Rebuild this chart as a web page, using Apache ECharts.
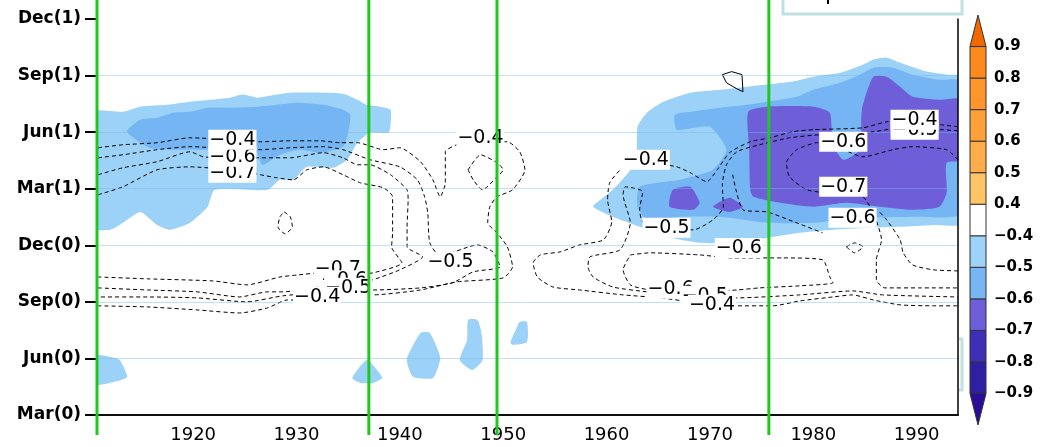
<!DOCTYPE html>
<html>
<head>
<meta charset="utf-8">
<script src="https://cdn.jsdelivr.net/npm/echarts@6/dist/echarts.min.js"></script>
<style>
  html, body { margin: 0; background: #fff; }
  #chart { width: 1057px; height: 447px; }
</style>
</head>
<body>
<div id="chart"></div>
<script>
// axes
const yTickLabels = ['Mar(0)', 'Jun(0)', 'Sep(0)', 'Dec(0)', 'Mar(1)', 'Jun(1)', 'Sep(1)', 'Dec(1)'];
const xTickValues = [1920, 1930, 1940, 1950, 1960, 1970, 1980, 1990];
const greenLineYears = [1910.7, 1937.0, 1949.4, 1975.7];

// colour bar
const cbLabels = ['−0.9', '−0.8', '−0.7', '−0.6', '−0.5', '−0.4', '0.4', '0.5', '0.6', '0.7', '0.8', '0.9'];
const cbColors = ['#2a0c98', '#2f20a3', '#3d2fb8', '#6e5fd9', '#77b6f3', '#9dd3f8', '#ffffff',
  '#ffc465', '#ffad4a', '#ffa13a', '#ff952b', '#fd8a1c', '#f06800'];

// filled areas, [year, month index from Mar(0)]
const fillLeft04 = [[1910.0,16.03],[1913.2,16.08],[1914.9,16.35],[1917.5,16.45],[1919.7,16.61],[1921.6,16.72],[1923.6,16.83],[1924.8,16.99],[1926.2,16.83],[1928.1,16.99],[1929.4,17.09],[1932.6,17.09],[1934.5,17.04],[1935.9,16.72],[1936.8,16.45],[1938.1,16.35],[1939.1,16.19],[1939.1,15.39],[1938.9,14.97],[1937.1,14.97],[1935.9,14.44],[1934.9,13.54],[1933.5,13.11],[1931.0,13.16],[1929.7,12.47],[1928.4,12.47],[1927.2,11.94],[1922.1,11.94],[1921.4,11.04],[1919.7,10.19],[1917.8,9.82],[1916.5,10.08],[1914.9,10.77],[1913.2,10.19],[1912.0,9.82],[1910.0,9.93]];
const fillLeft05 = [[1913.6,15.02],[1914.9,15.66],[1916.5,15.76],[1918.1,16.03],[1919.7,16.08],[1921.4,16.30],[1923.6,16.30],[1926.2,16.35],[1928.1,16.45],[1930.1,16.56],[1932.6,16.45],[1934.5,16.19],[1935.2,15.92],[1935.0,14.97],[1934.5,14.23],[1932.3,13.91],[1930.3,14.07],[1928.4,13.80],[1926.7,13.27],[1926.0,14.07],[1923.6,14.07],[1920.7,14.07],[1917.8,14.07],[1915.8,14.17]];
const fillRight04 = [[1958.7,11.04],[1959.4,11.41],[1960.6,11.94],[1962.3,13.00],[1962.9,14.07],[1963.0,15.29],[1963.9,16.03],[1965.5,16.61],[1968.1,17.09],[1971.0,17.25],[1973.6,17.41],[1975.5,17.52],[1978.0,17.68],[1980.0,17.94],[1982.6,18.15],[1984.8,18.58],[1985.8,18.84],[1987.1,18.95],[1988.4,18.68],[1991.0,18.21],[1992.9,18.05],[1994.5,17.94],[1994.5,10.19],[1991.6,10.08],[1988.4,9.98],[1985.2,9.93],[1981.9,9.82],[1978.7,9.66],[1975.5,9.39],[1972.2,9.13],[1969.0,9.13],[1965.8,9.45],[1963.2,9.98],[1960.6,10.51]];
const fillRight05 = [[1966.6,15.92],[1968.1,16.08],[1971.0,16.30],[1973.6,16.45],[1975.5,16.61],[1978.4,16.88],[1980.0,17.25],[1982.6,17.62],[1984.5,18.05],[1985.8,18.42],[1987.7,18.42],[1989.6,18.05],[1992.2,17.78],[1994.5,17.68],[1994.5,10.72],[1989.6,10.51],[1984.5,10.46],[1980.0,10.19],[1975.5,10.19],[1971.0,10.51],[1967.1,10.51],[1963.9,10.35],[1963.0,11.04],[1963.2,12.10],[1967.1,12.47],[1970.3,13.00],[1971.6,14.07],[1970.0,15.29],[1966.8,15.13]];
const fillRight06 = [[1973.7,16.08],[1975.5,16.35],[1980.0,16.35],[1981.6,16.03],[1981.9,14.33],[1982.9,13.54],[1984.5,14.07],[1984.7,16.19],[1985.8,17.94],[1987.1,17.94],[1988.4,17.41],[1989.6,16.88],[1992.2,16.72],[1994.5,16.72],[1994.5,13.54],[1992.9,13.38],[1992.9,11.78],[1992.2,11.04],[1989.6,10.88],[1986.4,11.04],[1983.2,11.25],[1980.0,11.04],[1976.8,11.25],[1974.2,11.57],[1973.9,11.94],[1973.8,14.07]];
const fillSpot06a = [[1966.1,11.04],[1966.4,11.94],[1968.1,12.10],[1969.0,11.25],[1968.4,10.88]];
const fillSpot06b = [[1970.3,11.04],[1971.9,11.52],[1973.2,11.04],[1971.9,10.77]];
const fillSpotA = [[1910.0,3.18],[1912.0,3.08],[1912.9,2.92],[1913.6,2.02],[1912.3,1.75],[1910.0,1.59]];
const fillSpotB = [[1935.4,1.96],[1936.8,2.92],[1937.8,2.39],[1938.3,1.96],[1937.4,1.70],[1936.2,1.70]];
const fillSpotC = [[1940.7,3.03],[1942.0,4.35],[1942.9,4.35],[1943.9,3.03],[1943.2,1.96],[1941.3,2.02],[1940.8,2.55]];
const fillSpotD = [[1945.8,2.92],[1946.5,3.98],[1946.6,5.04],[1947.5,5.04],[1947.9,4.35],[1948.0,2.92],[1947.0,2.39]];
const fillSpotE = [[1950.7,3.87],[1951.3,4.62],[1951.6,4.94],[1952.3,4.94],[1952.3,3.87],[1950.9,3.72]];

const levelColors = { l04: '#9cd2f8', l05: '#76b5f3', l06: '#6e5fd9' };
const fillShapes = [
  { color: levelColors.l04, pts: fillLeft04 },
  { color: levelColors.l04, pts: fillRight04 },
  { color: levelColors.l04, pts: fillSpotA },
  { color: levelColors.l04, pts: fillSpotB },
  { color: levelColors.l04, pts: fillSpotC },
  { color: levelColors.l04, pts: fillSpotD },
  { color: levelColors.l04, pts: fillSpotE },
  { color: levelColors.l05, pts: fillLeft05 },
  { color: levelColors.l05, pts: fillRight05 },
  { color: levelColors.l06, pts: fillRight06 },
  { color: levelColors.l06, pts: fillSpot06a },
  { color: levelColors.l06, pts: fillSpot06b },
];

// dashed contour lines
const lineLeft04 = [[1910.8,14.17],[1913.2,14.33],[1916.5,14.44],[1919.7,14.70],[1923.6,14.60],[1926.5,14.49],[1929.4,14.54],[1932.3,14.54],[1934.2,14.44],[1935.9,14.44],[1938.4,14.07],[1940.0,14.17],[1942.0,13.43],[1943.2,12.47],[1943.9,11.57],[1944.4,12.31],[1944.4,13.96],[1945.5,14.33],[1946.8,14.49],[1950.4,14.49],[1951.6,13.96],[1952.1,13.00],[1950.9,11.94],[1949.4,11.57],[1948.7,11.04],[1948.5,10.19],[1949.4,9.66],[1950.4,8.92],[1950.9,7.86],[1950.0,7.27],[1945.5,7.06],[1942.0,6.63],[1937.4,6.37],[1934.5,6.37],[1931.3,6.10],[1929.1,6.10],[1927.2,5.68],[1924.5,5.41],[1920.4,5.57],[1915.6,5.73],[1910.8,5.79]];
const lineLeft05 = [[1910.8,13.64],[1913.2,13.80],[1916.5,14.07],[1919.7,14.23],[1923.6,14.12],[1926.5,14.07],[1929.4,14.17],[1932.6,14.23],[1934.5,14.07],[1937.1,13.54],[1940.0,13.16],[1941.7,12.47],[1942.4,11.57],[1942.7,10.72],[1942.9,9.13],[1943.9,8.44],[1947.5,9.02],[1949.0,8.65],[1949.7,7.86],[1947.1,7.59],[1945.1,7.01],[1942.0,6.74],[1937.4,6.63],[1935.5,6.63],[1928.7,6.32],[1925.2,6.00],[1920.4,6.21],[1915.6,6.26],[1910.8,6.26]];
const lineLeft06 = [[1910.8,12.74],[1913.2,13.11],[1916.5,13.43],[1919.7,13.96],[1921.0,13.69],[1923.6,13.64],[1926.5,13.64],[1929.4,13.64],[1932.6,13.91],[1934.5,13.64],[1935.9,13.27],[1937.1,13.27],[1939.1,12.74],[1940.7,11.94],[1940.8,11.41],[1940.7,9.98],[1940.7,8.92],[1942.2,8.39],[1940.0,7.70],[1937.4,7.17],[1935.5,6.90],[1932.3,6.79],[1928.7,6.53],[1927.2,6.53],[1924.5,6.26],[1920.4,6.53],[1915.6,6.63],[1910.8,6.74]];
const lineLeft07 = [[1910.8,11.68],[1913.2,12.10],[1916.5,13.00],[1919.7,13.16],[1923.6,13.00],[1926.5,12.74],[1928.1,12.58],[1929.7,12.47],[1931.0,13.00],[1932.6,13.16],[1934.5,12.74],[1936.2,12.31],[1938.4,12.05],[1939.3,11.57],[1939.3,9.66],[1939.2,8.92],[1940.2,8.07],[1937.4,7.54],[1935.2,7.43],[1933.2,7.59],[1930.2,7.43],[1928.4,7.32],[1925.2,6.90],[1921.9,7.11],[1915.6,7.22],[1910.8,7.32]];
const loop1948 = [[1946.6,13.00],[1947.8,13.80],[1949.4,13.38],[1950.0,13.00],[1949.4,12.63],[1948.0,11.94],[1947.1,12.47],[1946.6,13.00]];
const loop1929 = [[1928.8,10.77],[1929.4,10.51],[1929.6,9.98],[1928.9,9.61],[1928.2,9.98],[1928.4,10.51],[1928.8,10.77]];
const lineRight04 = [[1994.0,15.29],[1992.4,15.39],[1989.8,15.66],[1987.1,15.55],[1984.8,15.23],[1980.0,15.13],[1978.0,15.02],[1975.8,14.70],[1973.9,14.49],[1971.9,13.91],[1970.7,13.00],[1969.7,12.37],[1968.1,12.85],[1966.8,13.16],[1964.2,13.38],[1961.6,13.11],[1960.3,12.31],[1960.1,11.41],[1960.5,10.24],[1959.7,9.29],[1957.4,9.02],[1955.5,8.65],[1953.6,8.49],[1952.9,8.07],[1953.3,7.32],[1954.8,6.79],[1957.4,6.63],[1961.6,6.37],[1965.2,6.21],[1969.0,5.94],[1972.6,5.79],[1976.1,5.79],[1978.7,6.05],[1981.9,6.26],[1983.8,6.37],[1985.8,6.10],[1988.4,5.84],[1991.6,5.79],[1994.0,5.79]];
const lineRight05 = [[1994.0,15.07],[1992.5,15.13],[1988.4,15.23],[1985.8,15.02],[1980.6,14.86],[1977.7,14.70],[1974.8,14.33],[1972.6,13.96],[1971.6,13.27],[1971.2,12.21],[1971.3,11.04],[1970.3,10.35],[1968.4,9.82],[1965.9,9.93],[1963.5,10.24],[1963.2,10.88],[1963.5,11.84],[1961.8,12.10],[1961.6,11.68],[1962.3,10.19],[1961.3,8.76],[1958.4,8.39],[1958.2,7.86],[1958.7,7.32],[1960.6,6.79],[1963.9,6.53],[1968.1,6.26],[1972.6,6.21],[1978.7,6.37],[1983.8,6.58],[1986.7,6.37],[1994.0,6.26]];
const lineRight06 = [[1994.0,13.54],[1992.9,14.07],[1989.6,14.23],[1987.7,14.07],[1984.8,13.69],[1982.9,14.07],[1980.4,14.44],[1978.4,14.07],[1977.4,13.38],[1977.7,12.63],[1979.4,11.94],[1982.9,11.68],[1984.8,11.57],[1985.8,10.72],[1986.6,9.29],[1986.1,8.23],[1986.1,7.17],[1986.9,6.74],[1990.3,6.74],[1994.0,6.74]];
const lineRight06b = [[1994.0,7.64],[1991.6,7.70],[1989.6,7.96],[1988.7,8.60],[1988.4,9.29],[1987.1,10.35],[1986.4,10.77]];
const lineRight07 = [[1972.2,12.74],[1973.2,10.88],[1975.5,10.77],[1978.4,10.19],[1980.9,9.66]];
const loopRight06 = [[1962.3,8.49],[1964.2,8.60],[1969.0,8.49],[1972.2,8.33],[1977.1,8.33],[1980.9,8.23],[1981.6,7.32],[1981.9,7.01],[1978.7,6.85],[1974.8,6.74],[1972.6,6.63],[1969.0,6.53],[1967.1,6.53],[1964.2,6.63],[1962.3,6.90],[1961.6,7.70],[1962.3,8.49]];
const loop1984 = [[1983.2,8.92],[1984.0,9.13],[1984.8,8.92],[1984.0,8.60],[1983.2,8.92]];
const dashedLines = [lineLeft04, lineLeft05, lineLeft06, lineLeft07, loop1948, loop1929,
  lineRight04, lineRight05, lineRight06, lineRight06b, lineRight07, loopRight06, loop1984];
// solid positive contour
const solidLoop = [[1971.2,18.05],[1972.1,18.21],[1973.1,18.05],[1973.2,17.14],[1972.6,17.30],[1971.6,17.62],[1971.2,18.05]];

// contour labels [year, month index, text]
const contourLabels = [
  [1923.8, 12.85, '−0.7'], [1923.8, 13.69, '−0.6'], [1923.8, 14.60, '−0.4'],
  [1947.8, 14.70, '−0.4'], [1944.9, 8.12, '−0.5'],
  [1934.0, 7.75, '−0.7'], [1934.6, 7.15, '−0.6'], [1935.0, 6.75, '−0.5'], [1932.0, 6.26, '−0.4'],
  [1963.8, 13.54, '−0.4'], [1965.8, 9.93, '−0.5'], [1982.9, 14.49, '−0.6'],
  [1989.8, 15.13, '−0.5'], [1989.8, 15.66, '−0.4'],
  [1982.9, 12.10, '−0.7'], [1983.8, 10.46, '−0.6'], [1972.8, 8.86, '−0.6'],
  [1966.2, 6.69, '−0.6'], [1969.5, 6.32, '−0.5'], [1970.2, 5.84, '−0.4'],
];

const chart = echarts.init(document.getElementById('chart'));

const baseFont = 'DejaVu Sans';

const dashedSeries = dashedLines.map(pts => ({
  type: 'line',
  data: pts,
  xAxisIndex: 0,
  yAxisIndex: 0,
  showSymbol: false,
  symbol: 'none',
  smooth: 0.2,
  silent: true,
  z: 5,
  lineStyle: { color: '#000', width: 1, type: [4, 3] },
}));

const option = {
  animation: false,
  backgroundColor: '#fff',
  grid: [
    { left: 97, right: 99, top: 19, bottom: 32, show: true, backgroundColor: '#fff', borderWidth: 0 },
    { left: 970, width: 16, top: 15, height: 410 },
  ],
  xAxis: [
    {
      type: 'value',
      gridIndex: 0,
      min: 1910.7,
      max: 1994,
      z: 10,
      axisLine: { show: true, lineStyle: { color: '#000', width: 1.5 } },
      axisTick: { show: false },
      splitLine: { show: false },
      axisLabel: {
        customValues: xTickValues,
        formatter: v => String(v),
        margin: 11,
        color: '#000',
        fontSize: 18,
        fontFamily: baseFont,
      },
    },
    {
      type: 'value',
      gridIndex: 0,
      position: 'top',
      min: 1910.7,
      max: 1994,
      z: 10,
      axisLine: { show: true, lineStyle: { color: '#000', width: 1.5 } },
      axisTick: { show: false },
      axisLabel: { show: false },
      splitLine: { show: false },
    },
    { type: 'value', gridIndex: 1, min: 0, max: 1, show: false },
  ],
  yAxis: [
    {
      type: 'value',
      gridIndex: 0,
      min: 0,
      max: 21,
      interval: 3,
      z: 10,
      axisLine: { show: false },
      axisTick: { show: true, length: 12, lineStyle: { color: '#000', width: 2 } },
      splitLine: {
        show: true,
        showMinLine: false,
        showMaxLine: false,
        lineStyle: { color: 'rgba(120,185,240,0.45)', width: 1 },
      },
      axisLabel: {
        formatter: v => yTickLabels[v / 3],
        margin: 16,
        color: '#000',
        fontSize: 17,
        fontWeight: 'bold',
        fontFamily: baseFont,
      },
    },
    {
      type: 'value',
      gridIndex: 0,
      position: 'right',
      min: 0,
      max: 21,
      z: 10,
      axisLine: { show: true, lineStyle: { color: '#000', width: 1.5 } },
      axisTick: { show: false },
      axisLabel: { show: false },
      splitLine: { show: false },
    },
    {
      type: 'value',
      gridIndex: 1,
      position: 'right',
      min: -1,
      max: 12,
      interval: 1,
      axisLine: { show: false },
      axisTick: { show: false },
      splitLine: { show: false },
      axisLabel: {
        formatter: v => cbLabels[v] || '',
        margin: 8,
        color: '#000',
        fontSize: 15,
        fontWeight: 'bold',
        fontFamily: baseFont,
      },
    },
  ],
  graphic: [
    {
      type: 'rect',
      shape: { x: 783, y: -6, width: 179, height: 20 },
      style: { fill: '#fff', stroke: '#bfe1e1', lineWidth: 3 },
      z: 1,
    },
    {
      type: 'line',
      shape: { x1: 828, y1: 0, x2: 828, y2: 4 },
      style: { stroke: '#000', lineWidth: 2 },
      z: 1,
    },
    {
      type: 'polyline',
      shape: { points: [[959, 339], [962, 339], [962, 390], [959, 390]] },
      style: { fill: null, stroke: '#bfe1e1', lineWidth: 3 },
      z: 1,
    },
  ],
  series: [
    {
      type: 'custom',
      xAxisIndex: 0,
      yAxisIndex: 0,
      clip: true,
      silent: true,
      z: 2,
      data: fillShapes.map(f => f.pts[0]),
      renderItem: (params, api) => {
        const f = fillShapes[params.dataIndex];
        return {
          type: 'polygon',
          shape: { points: f.pts.map(p => api.coord(p)), smooth: 0.2 },
          style: { fill: f.color },
        };
      },
    },
    ...dashedSeries,
    {
      type: 'line',
      data: solidLoop,
      showSymbol: false,
      symbol: 'none',
      silent: true,
      z: 5,
      lineStyle: { color: '#000', width: 1 },
    },
    {
      type: 'scatter',
      xAxisIndex: 0,
      yAxisIndex: 0,
      symbolSize: 0,
      silent: true,
      z: 15,
      itemStyle: { opacity: 1 },
      emphasis: { disabled: true },
      data: contourLabels.map(l => ({ value: [l[0], l[1]], name: l[2] })),
      label: {
        show: true,
        position: 'inside',
        formatter: '{b}',
        color: '#000',
        opacity: 1,
        fontSize: 19,
        fontFamily: baseFont,
        lineHeight: 20,
        backgroundColor: '#ffffff',
        padding: [0, 1],
      },
    },
    {
      type: 'custom',
      xAxisIndex: 0,
      yAxisIndex: 0,
      clip: false,
      silent: true,
      z: 20,
      data: greenLineYears.map(y => [y, 0]),
      renderItem: (params, api) => {
        const top = api.coord([api.value(0), 21]);
        const bot = api.coord([api.value(0), 0]);
        return {
          type: 'line',
          shape: { x1: top[0], y1: top[1] - 20, x2: bot[0], y2: bot[1] + 20 },
          style: { stroke: '#1fc81f', lineWidth: 3 },
        };
      },
    },
    {
      type: 'custom',
      xAxisIndex: 2,
      yAxisIndex: 2,
      clip: false,
      silent: true,
      z: 5,
      data: cbColors.map((c, i) => [0.5, i - 1]),
      renderItem: (params, api) => {
        const i = params.dataIndex;
        const lo = i - 1;
        let points;
        if (i === 0) {
          points = [api.coord([0, 0]), api.coord([1, 0]), api.coord([0.5, -1])];
        } else if (i === cbColors.length - 1) {
          points = [api.coord([0, 11]), api.coord([1, 11]), api.coord([0.5, 12])];
        } else {
          points = [api.coord([0, lo]), api.coord([1, lo]), api.coord([1, lo + 1]), api.coord([0, lo + 1])];
        }
        return {
          type: 'polygon',
          shape: { points },
          style: { fill: cbColors[i], stroke: '#333', lineWidth: 1 },
        };
      },
    },
  ],
};

chart.setOption(option);
window.addEventListener('resize', () => chart.resize());
</script>
</body>
</html>
